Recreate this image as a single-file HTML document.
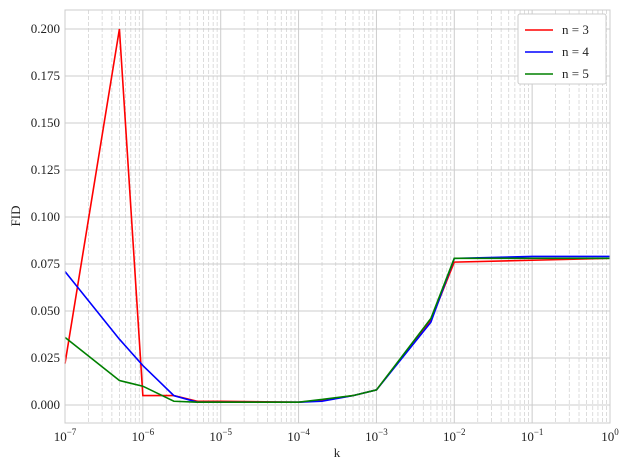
<!DOCTYPE html>
<html><head><meta charset="utf-8"><style>
body{margin:0;background:#fff;}
svg text{font-family:"Liberation Serif",serif;fill:#222;}
</style></head><body>
<svg id="chart" width="630" height="470" xmlns="http://www.w3.org/2000/svg">
<g id="grid"></g>
<g id="series"></g>
<g id="axes"></g>
<text x="337" y="457" font-size="13" text-anchor="middle">k</text>
<text x="20" y="216" font-size="13" text-anchor="middle" transform="rotate(-90 20 216)">FID</text>
<g id="legend"></g>
</svg>
<script>
const kValues=[1e-7,5e-7,1e-6,2.5e-6,5e-6,1e-5,1e-4,2e-4,5e-4,1e-3,5e-3,1e-2,1e-1,1];
const fidN3=[0.022,0.200,0.005,0.005,0.002,0.002,0.0015,0.0025,0.005,0.008,0.045,0.076,0.077,0.078];
const fidN4=[0.071,0.035,0.021,0.005,0.0015,0.0015,0.0015,0.002,0.005,0.008,0.044,0.078,0.079,0.079];
const fidN5=[0.036,0.013,0.010,0.002,0.0015,0.0015,0.0015,0.003,0.005,0.008,0.046,0.078,0.078,0.078];
const seriesNames=["n = 3","n = 4","n = 5"];
const seriesColors=["#ff0000","#0000ff","#008000"];
const yTicks=[0,0.025,0.05,0.075,0.1,0.125,0.15,0.175,0.2];
const xTickExps=[-7,-6,-5,-4,-3,-2,-1,0];
const L=65,R=610,T=10,B=423;
const xs=v=>L+(Math.log10(v)+7)/7*(R-L);
const ys=v=>405-v*1880;
const NS="http://www.w3.org/2000/svg";
function mk(tag,attrs,parent){const e=document.createElementNS(NS,tag);for(const k in attrs)e.setAttribute(k,attrs[k]);parent.appendChild(e);return e;}
const grid=document.getElementById('grid'),axes=document.getElementById('axes'),ser=document.getElementById('series'),leg=document.getElementById('legend');
for(let e=-7;e<0;e++){for(let m=2;m<10;m++){const x=xs(m*Math.pow(10,e));const l=mk('line',{x1:x,x2:x,y1:T,y2:B,stroke:'#d4d4d4','stroke-width':0.8,'stroke-dasharray':'4,2'},grid);

}}
xTickExps.forEach(e=>{const x=xs(Math.pow(10,e));const l=mk('line',{x1:x,x2:x,y1:T,y2:B,stroke:'#cccccc','stroke-width':1},grid);


const t=mk('text',{x:x,y:B+18,'font-size':13,'text-anchor':'middle'},axes);


t.textContent='10';const s=mk('tspan',{dy:-6,'font-size':9},t);s.textContent=e<0?'−'+(-e):String(e);});
yTicks.forEach(v=>{const y=ys(v);const l=mk('line',{x1:L,x2:R,y1:y,y2:y,stroke:'#cccccc','stroke-width':1},grid);


const t=mk('text',{x:L-5,y:y+4,'font-size':13,'text-anchor':'end'},axes);


t.textContent=v.toFixed(3);});
const frame=mk('rect',{x:L,y:T,width:R-L,height:B-T,fill:'none',stroke:'#cccccc','stroke-width':1},axes);


[fidN3,fidN4,fidN5].forEach((arr,i)=>{const p=mk('polyline',{points:arr.map((v,j)=>xs(kValues[j])+','+ys(v)).join(' '),fill:'none',stroke:seriesColors[i],'stroke-width':1.6},ser);

});
const box=mk('rect',{x:518,y:14,width:88,height:70,fill:'#fff',stroke:'#cccccc',rx:2},leg);


seriesNames.forEach((n,i)=>{const y=30+i*22;const l=mk('line',{x1:525,x2:553,y1:y,y2:y,stroke:seriesColors[i],'stroke-width':1.6},leg);


const t=mk('text',{x:562,y:y+4,'font-size':13},leg);


t.textContent=n;});
</script>
</body></html>
